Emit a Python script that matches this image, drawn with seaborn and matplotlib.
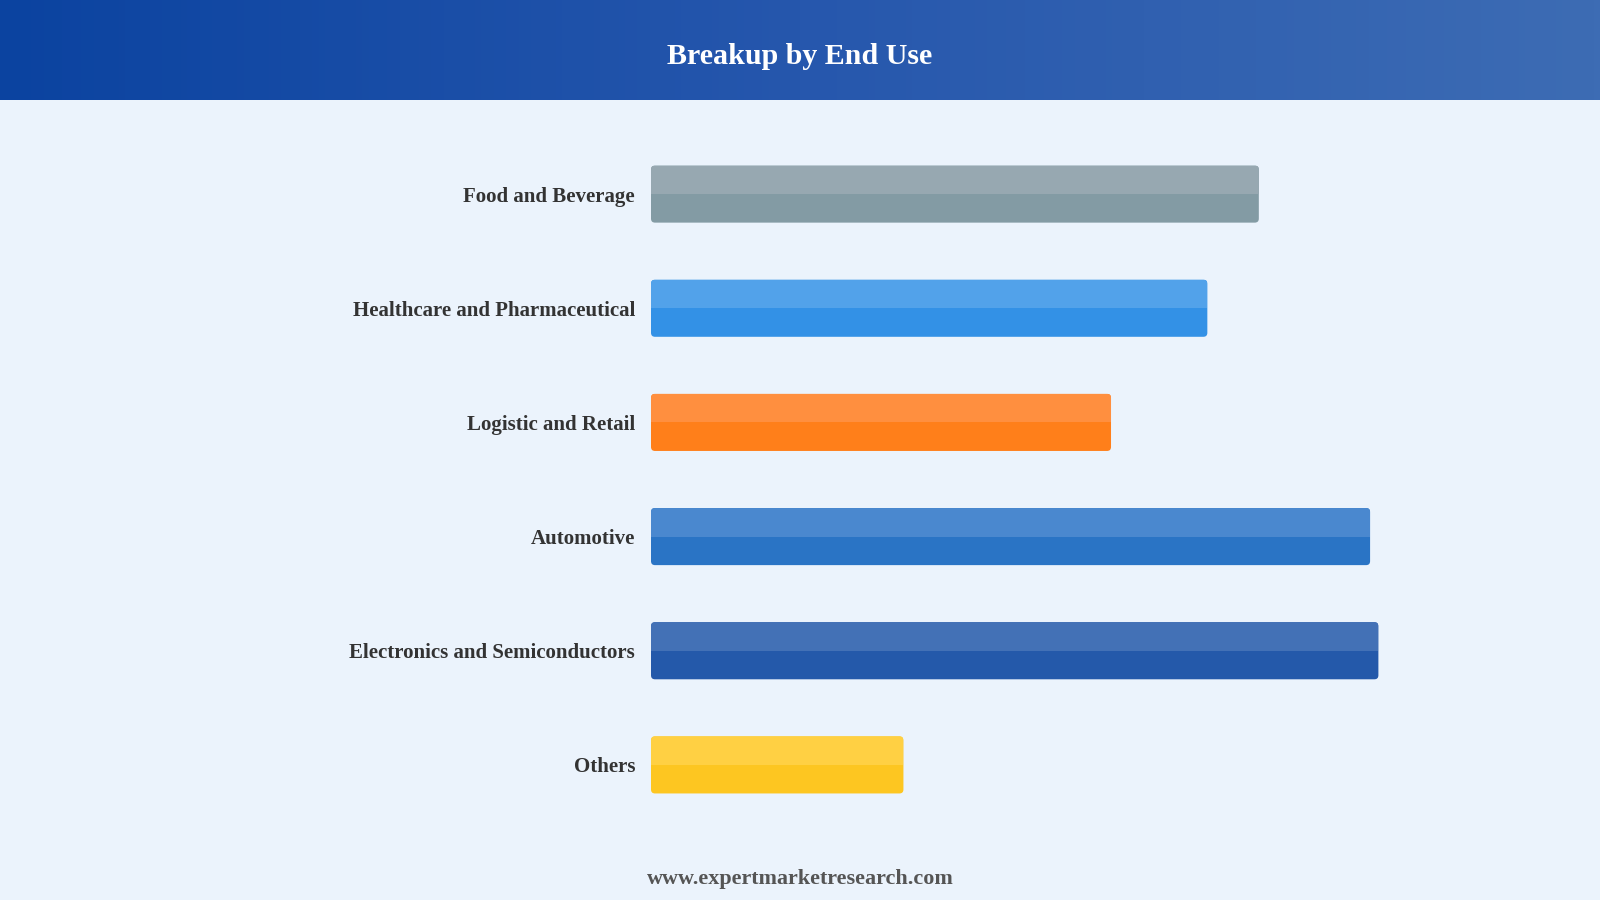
import numpy as np
import pandas as pd
import matplotlib
matplotlib.use("Agg")
import matplotlib.pyplot as plt
from matplotlib.patches import FancyBboxPatch, Rectangle
from matplotlib.colors import LinearSegmentedColormap
import seaborn as sns

categories = ["Food and Beverage", "Healthcare and Pharmaceutical", "Logistic and Retail",
              "Automotive", "Electronics and Semiconductors", "Others"]
values = [18.3, 16.75, 13.85, 21.65, 21.9, 7.6]
base_colors = ["#839BA4", "#3391E6", "#FF7F1A", "#2A74C5", "#2459AA", "#FDC621"]
top_colors = ["#97A8B1", "#52A2EA", "#FF8F3F", "#4A88CF", "#4371B6", "#FFD043"]
title = "Breakup by End Use"
footer = "www.expertmarketresearch.com"

BG = "#EBF3FC"
W, H = 1600, 900
sns.set_theme(style="white")
plt.rcParams["font.family"] = ["Liberation Serif", "DejaVu Serif"]

fig = plt.figure(figsize=(16, 9), dpi=100)
fig.patch.set_facecolor(BG)

# header gradient
hax = fig.add_axes([0, 1 - 100 / H, 1, 100 / H])
cmap = LinearSegmentedColormap.from_list("hdr", ["#0B43A0", "#2657AD", "#3D6CB4"])
hax.imshow(np.linspace(0, 1, 256)[None, :], aspect="auto", cmap=cmap, extent=[0, 1, 0, 1])
hax.set_axis_off()
hax.text(0.5, 0.44, title, ha="center", va="center", color="white",
         fontsize=21.6, fontweight="bold", transform=hax.transAxes)

# bar axes
ax_left = 651 / W
ax_bottom = 1 - 822 / H
ax = fig.add_axes([ax_left, ax_bottom, 930 / W, 685 / H])
ax.set_facecolor(BG)
df = pd.DataFrame({"category": categories, "value": values})
sns.barplot(data=df, x="value", y="category", hue="category", palette=base_colors,
            orient="h", width=0.5, legend=False, ax=ax, saturation=1)
ax.set_xlim(0, 28)
ax.set_ylim(5.5, -0.5)
for s in ax.spines.values():
    s.set_visible(False)
ax.set_xticks([])
ax.set_xlabel("")
ax.set_ylabel("")
ax.tick_params(axis="y", length=0, pad=11.5)
for lab in ax.get_yticklabels():
    lab.set_fontsize(15)
    lab.set_fontweight("bold")
    lab.set_color("#333333")

# pixel scale for rounded corners
bbox = ax.get_window_extent()
px_per_x = bbox.width / 28
px_per_y = bbox.height / 6
r_px = 4
aspect = px_per_x / px_per_y

patches = list(ax.patches)
for i, p in enumerate(patches):
    x, y, w, h = p.get_x(), p.get_y(), p.get_width(), p.get_height()
    p.remove()
    fb = FancyBboxPatch((x, y), w, h,
                        boxstyle=f"round,pad=0,rounding_size={r_px / px_per_x}",
                        mutation_aspect=aspect, facecolor=base_colors[i],
                        edgecolor="none", zorder=2)
    ax.add_patch(fb)
    top = Rectangle((x, y), w, h / 2, facecolor=top_colors[i], edgecolor="none", zorder=3)
    ax.add_patch(top)
    top.set_clip_path(fb)

fig.text(0.5, 1 - 879 / H, footer, ha="center", va="center", color="#555555",
         fontsize=15.9, fontweight="bold")

fig.savefig("out.png", dpi=100, facecolor=BG)
